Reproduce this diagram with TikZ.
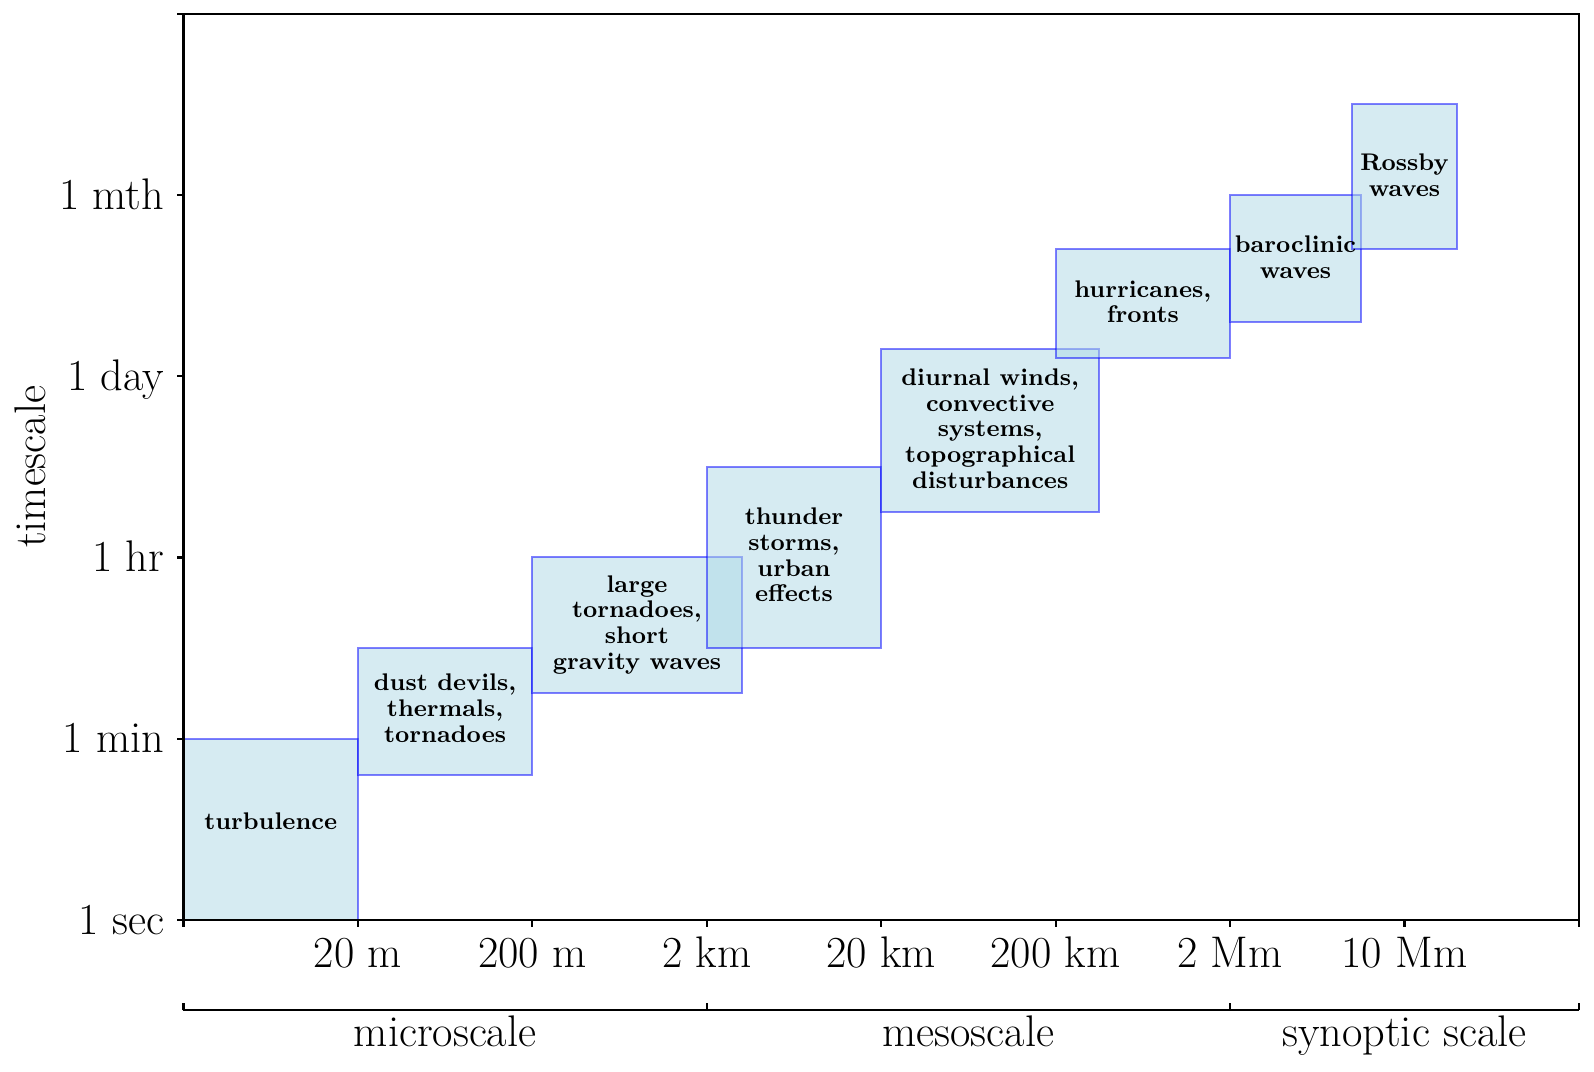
\documentclass[tikz,border=0pt]{standalone}
\usetikzlibrary{fit}
\definecolor{lblue}{HTML}{ADD8E6}
\begin{document}
\begin{tikzpicture}[x=63.03pt,y=65.48pt,
  regbox/.style={draw=blue, fill=lblue, draw opacity=0.5, fill opacity=0.5, text opacity=1, line width=0.75pt, inner sep=0pt, outer sep=0pt},
  lbl/.style={font=\fontsize{8.7}{9.3}\selectfont\bfseries, align=center, inner sep=0pt, text=black},
  ticklab/.style={font=\fontsize{16}{19}\selectfont, inner sep=0pt},
  axisline/.style={line width=0.8pt, black}
]
\useasboundingbox (-66.3pt,-54.9pt) rectangle (509.7pt,332.4pt);
% region boxes
\node[regbox, fit={(0,0) (1,1)}] (turb) {};
\node[regbox, fit={(1,0.8) (2,1.5)}] (dust) {};
\node[regbox, fit={(2,1.25) (3.2,2.0)}] (large) {};
\node[regbox, fit={(3,1.5) (4,2.5)}] (thunder) {};
\node[regbox, fit={(4,2.25) (5.25,3.15)}] (diurnal) {};
\node[regbox, fit={(5,3.1) (6,3.7)}] (hurr) {};
\node[regbox, fit={(6,3.3) (6.75,4.0)}] (baro) {};
\node[regbox, fit={(6.7,3.7) (7.3,4.5)}] (rossby) {};
% labels
\node[lbl, yshift=2.9pt] (turbT) at (turb.center) {turbulence};
\node[lbl, yshift=1.1pt] (dustT) at (dust.center) {dust devils,\\thermals,\\tornadoes};
\node[lbl, yshift=0.2pt] (largeT) at (large.center) {large\\tornadoes,\\short\\gravity waves};
\node[lbl, yshift=0.9pt] (thunderT) at (thunder.center) {thunder\\storms,\\urban\\effects};
\node[lbl, yshift=0.7pt] (diurnalT) at (diurnal.center) {diurnal winds,\\convective\\systems,\\topographical\\disturbances};
\node[lbl, yshift=0.7pt] (hurrT) at (hurr.center) {hurricanes,\\fronts};
\node[lbl, yshift=0.4pt] (baroT) at (baro.center) {baroclinic\\waves};
\node[lbl, yshift=0.7pt] (rossbyT) at (rossby.center) {Rossby\\waves};
% axes frame
\draw[axisline] (0,0) rectangle (8,5);
\foreach \i in {0,...,8} { \draw[axisline] (\i,0) -- ++(0,-2.5pt); }
\foreach \j in {0,...,5} { \draw[axisline] (0,\j) -- ++(-2.5pt,0); }
% x tick labels
\foreach \i/\t in {1/20 m, 2/200 m, 3/2 km, 4/20 km, 5/200 km, 6/2 Mm, 7/10 Mm}
  { \node[ticklab, anchor=base, yshift=-17.3pt] (xl\i) at (\i,0) {\t}; }
% y tick labels
\foreach \j/\t in {0/1 sec, 1/1 min, 2/1 hr, 3/1 day, 4/1 mth}
  { \node[ticklab, anchor=base east, xshift=-6.8pt, yshift=-5.15pt] (yl\j) at (0,\j) {\t}; }
\node[ticklab, rotate=90, anchor=base] (ylab) at (-0.793,2.5) {timescale};
% secondary scale axis
\draw[axisline] (0,-0.4994) -- (8,-0.4994);
\foreach \i in {0,3,6,8} { \draw[axisline] (\i,-0.4994) -- ++(0,2.5pt); }
\node[ticklab, anchor=base] (micro) at (1.5,-0.701) {microscale};
\node[ticklab, anchor=base] (meso) at (4.5,-0.701) {mesoscale};
\node[ticklab, anchor=base] (syn) at (7,-0.701) {synoptic scale};
\end{tikzpicture}
\end{document}
